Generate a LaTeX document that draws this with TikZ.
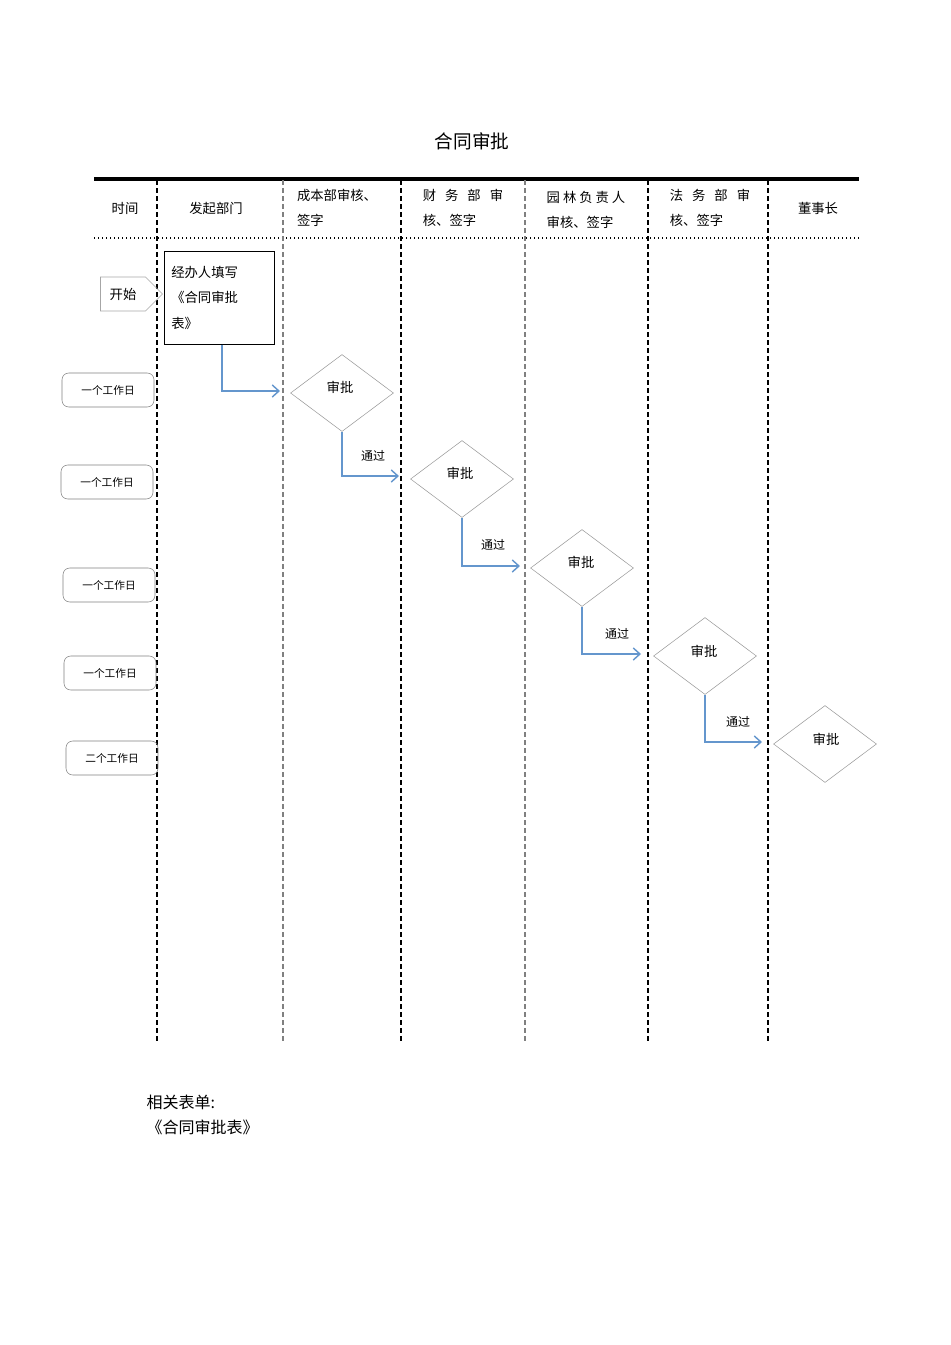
\documentclass[tikz,border=0pt]{standalone}
\usepackage{fontspec}
\newfontfamily\cjk{Noto Sans CJK SC}
\usetikzlibrary{shapes.geometric,shapes.symbols,arrows.meta}
\definecolor{fl}{RGB}{100,150,205}
\begin{document}
\begin{tikzpicture}[x=0.75pt,y=-0.75pt,font=\cjk\fontsize{10}{12}\selectfont,
 lane/.style={dashed,line width=1.6pt,dash pattern=on 4pt off 2pt},
 glane/.style={dashed,gray,line width=1pt,dash pattern=on 4pt off 2pt},
 day/.style={draw=gray,rounded corners=5pt,minimum width=92pt*0.75,minimum height=34pt*0.75,font=\cjk\fontsize{8}{10}\selectfont},
 dec/.style={diamond,draw=gray!80,aspect=1.35,minimum width=103*0.75pt,minimum height=77*0.75pt,inner sep=0pt},
 flow/.style={draw=fl,line width=1.1pt,-{Straight Barb[length=5pt,width=9pt]}},
 lbl/.style={font=\cjk\fontsize{9}{11}\selectfont}]
\useasboundingbox (0,0) rectangle (950,1345);
\node[font=\cjk\fontsize{14}{16}\selectfont] (title) at (472,141) {合同审批};
\draw[line width=2.5pt] (94,179) -- (859,179);
\draw[line width=1pt,dotted] (94,238) -- (859,238);
\foreach \x in {157,401,648,768} \draw[lane] (\x,180) -- (\x,1043);
\foreach \x in {283,525} \draw[glane] (\x,180) -- (\x,1043);
\node (h0) at (125,208) {时间};
\node (h1) at (216,208) {发起部门};
\node[align=left] (h2) at (337,208) {成本部审核、\\[7pt]签字};
\node[align=left] (h3) at (463,208) {财\ \ \ 务\ \ \ 部\ \ \ 审\\[7pt]核、签字};
\node[align=left] (h4) at (586,210) {园\ 林\ 负\ 责\ 人\\[7pt]审核、签字};
\node[align=left] (h5) at (710,208) {法\ \ \ 务\ \ \ 部\ \ \ 审\\[7pt]核、签字};
\node (h6) at (818,208) {董事长};
\node[signal,signal to=east,draw=gray!70,minimum width=62*0.75pt,minimum height=34*0.75pt,inner sep=2pt] (start) at (123,294) {开始};
\node[draw,minimum width=110*0.75pt,minimum height=93*0.75pt,align=left,anchor=north west,inner sep=5pt,text width=72pt] (form) at (164,251) {经办人填写\\[7pt]《合同审批\\[7pt]表》};
\node[day] (d1) at (108,390) {一个工作日};
\node[day] (d2) at (107,482) {一个工作日};
\node[day] (d3) at (109,585) {一个工作日};
\node[day] (d4) at (110,673) {一个工作日};
\node[day] (d5) at (112,758) {二个工作日};
\node[dec] (a1) at (342,393) {}; \node at (340,387) {审批};
\node[dec] (a2) at (462,479) {}; \node at (460,473) {审批};
\node[dec] (a3) at (582,568) {}; \node at (581,562) {审批};
\node[dec] (a4) at (705,656) {}; \node at (704,651) {审批};
\node[dec] (a5) at (825,744) {}; \node at (826,739) {审批};
\coordinate (e1) at (280,391);
\coordinate (e2) at (399,476);
\coordinate (e3) at (520,566);
\coordinate (e4) at (641,654);
\coordinate (e5) at (762,742);
\draw[flow] (form.south -| 222,0) |- (e1);
\draw[flow] (a1.south) |- (e2);
\draw[flow] (a2.south) |- (e3);
\draw[flow] (a3.south) |- (e4);
\draw[flow] (a4.south) |- (e5);
\node[lbl] (p1) at (373,456) {通过};
\node[lbl] (p2) at (493,545) {通过};
\node[lbl] (p3) at (617,634) {通过};
\node[lbl] (p4) at (738,722) {通过};
\node[anchor=west,font=\cjk\fontsize{12}{14}\selectfont] (rel) at (142,1102) {相关表单:};
\node[anchor=west,font=\cjk\fontsize{12}{14}\selectfont] (rel2) at (142,1127) {《合同审批表》};
\end{tikzpicture}
\end{document}
